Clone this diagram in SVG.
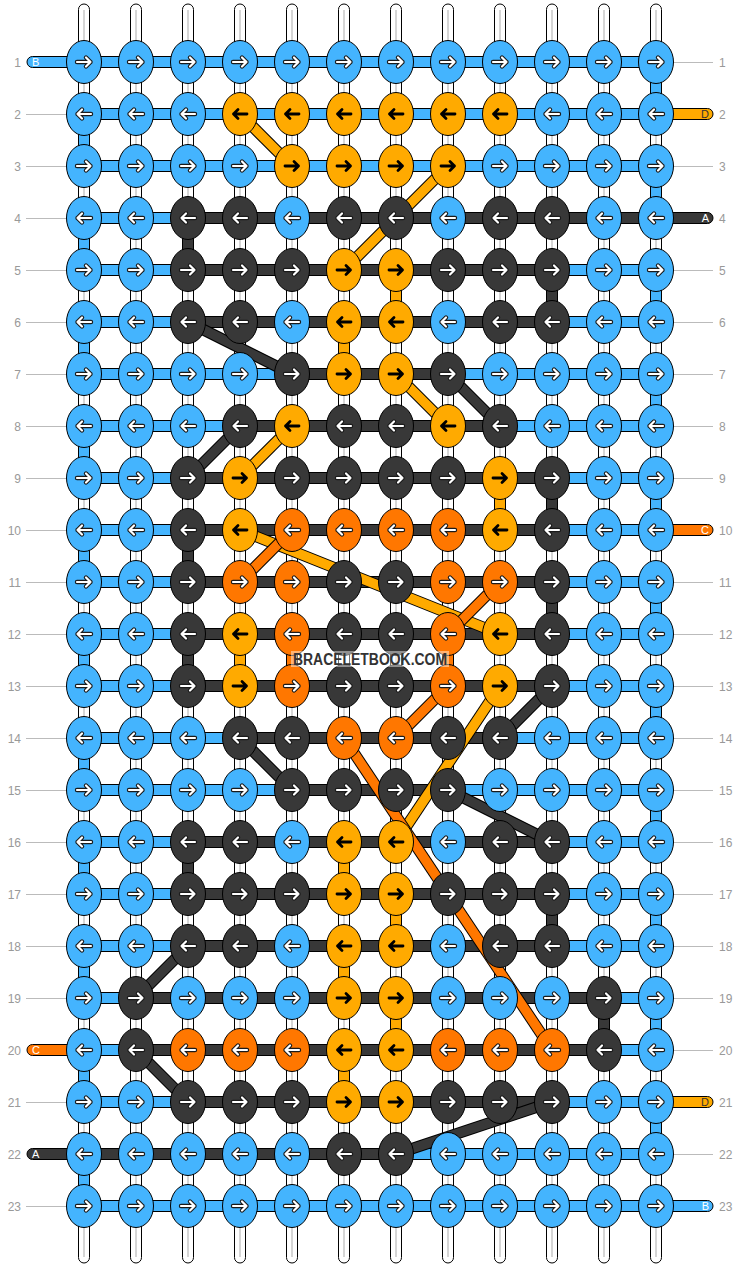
<svg xmlns="http://www.w3.org/2000/svg" xmlns:xlink="http://www.w3.org/1999/xlink" width="740" height="1268" viewBox="0 0 740 1268">
<style>
.lbl{font-family:"Liberation Sans",Arial,sans-serif;font-size:12px;fill:#999}
.gl{stroke:#bbb;stroke-width:1}
.ws{fill:#fff;stroke:#000;stroke-width:1}
.wc{stroke:#c8c8c8;stroke-width:1.5}
.cb{fill:#44B4FE;stroke:#000;stroke-width:1}
.cd{fill:#383838;stroke:#000;stroke-width:1}
.co{fill:#FFAA00;stroke:#000;stroke-width:1}
.cr{fill:#FF7700;stroke:#000;stroke-width:1}
.dl{fill:none;stroke:#000;stroke-width:11.5}
.dd{fill:none;stroke:#383838;stroke-width:9.5}
.do{fill:none;stroke:#FFAA00;stroke-width:9.5}
.dr{fill:none;stroke:#FF7700;stroke-width:9.5}
.ao{stroke:#1a1a1a;stroke-width:4.4}
.aw{stroke:#fff;stroke-width:2.2}
.ak{stroke:#000;stroke-width:2.8}
.tl{font-family:"Liberation Sans",Arial,sans-serif;font-size:11px}
</style>
<defs>
<path id="pR" d="M-7,0H6.5M2,-4.5L6.5,0L2,4.5" fill="none" stroke-linecap="round" stroke-linejoin="round"/>
<path id="pL" d="M7,0H-6.5M-2,-4.5L-6.5,0L-2,4.5" fill="none" stroke-linecap="round" stroke-linejoin="round"/>
<g id="bR"><ellipse rx="17.5" ry="21.5" class="cb"/><use href="#pR" class="ao"/><use href="#pR" class="aw"/></g>
<g id="bL"><ellipse rx="17.5" ry="21.5" class="cb"/><use href="#pL" class="ao"/><use href="#pL" class="aw"/></g>
<g id="dR"><ellipse rx="17.5" ry="21.5" class="cd"/><use href="#pR" class="ao"/><use href="#pR" class="aw"/></g>
<g id="dL"><ellipse rx="17.5" ry="21.5" class="cd"/><use href="#pL" class="ao"/><use href="#pL" class="aw"/></g>
<g id="rR"><ellipse rx="17.5" ry="21.5" class="cr"/><use href="#pR" class="ao"/><use href="#pR" class="aw"/></g>
<g id="rL"><ellipse rx="17.5" ry="21.5" class="cr"/><use href="#pL" class="ao"/><use href="#pL" class="aw"/></g>
<g id="oR"><ellipse rx="17.5" ry="21.5" class="co"/><use href="#pR" class="ak"/></g>
<g id="oL"><ellipse rx="17.5" ry="21.5" class="co"/><use href="#pL" class="ak"/></g>
</defs>
<rect width="740" height="1268" fill="#fff"/>
<g id="labels">
<path class="gl" d="M26,114.5H67M26,166.5H67M26,218.5H67M26,270.5H67M26,322.5H67M26,374.5H67M26,426.5H67M26,478.5H67M26,530.5H67M26,582.5H67M26,634.5H67M26,686.5H67M26,738.5H67M26,790.5H67M26,842.5H67M26,894.5H67M26,946.5H67M26,998.5H67M26,1102.5H67M26,1206.5H67"/>
<path class="gl" d="M673,62.5H713M673,166.5H713M673,270.5H713M673,322.5H713M673,374.5H713M673,426.5H713M673,478.5H713M673,582.5H713M673,634.5H713M673,686.5H713M673,738.5H713M673,790.5H713M673,842.5H713M673,894.5H713M673,946.5H713M673,998.5H713M673,1050.5H713M673,1154.5H713"/>
<g class="lbl" text-anchor="end">
<text x="21" y="66.5">1</text><text x="21" y="118.5">2</text><text x="21" y="170.5">3</text><text x="21" y="222.5">4</text><text x="21" y="274.5">5</text><text x="21" y="326.5">6</text><text x="21" y="378.5">7</text><text x="21" y="430.5">8</text><text x="21" y="482.5">9</text><text x="21" y="534.5">10</text><text x="21" y="586.5">11</text><text x="21" y="638.5">12</text><text x="21" y="690.5">13</text><text x="21" y="742.5">14</text><text x="21" y="794.5">15</text><text x="21" y="846.5">16</text><text x="21" y="898.5">17</text><text x="21" y="950.5">18</text><text x="21" y="1002.5">19</text><text x="21" y="1054.5">20</text><text x="21" y="1106.5">21</text><text x="21" y="1158.5">22</text><text x="21" y="1210.5">23</text>
</g>
<g class="lbl">
<text x="719" y="66.5">1</text><text x="719" y="118.5">2</text><text x="719" y="170.5">3</text><text x="719" y="222.5">4</text><text x="719" y="274.5">5</text><text x="719" y="326.5">6</text><text x="719" y="378.5">7</text><text x="719" y="430.5">8</text><text x="719" y="482.5">9</text><text x="719" y="534.5">10</text><text x="719" y="586.5">11</text><text x="719" y="638.5">12</text><text x="719" y="690.5">13</text><text x="719" y="742.5">14</text><text x="719" y="794.5">15</text><text x="719" y="846.5">16</text><text x="719" y="898.5">17</text><text x="719" y="950.5">18</text><text x="719" y="1002.5">19</text><text x="719" y="1054.5">20</text><text x="719" y="1106.5">21</text><text x="719" y="1158.5">22</text><text x="719" y="1210.5">23</text>
</g>
</g>
<g id="strings">
<rect class="ws" x="78.5" y="4" width="11" height="1259" rx="5.5"/>
<rect class="ws" x="130.5" y="4" width="11" height="1259" rx="5.5"/>
<rect class="ws" x="182.5" y="4" width="11" height="1259" rx="5.5"/>
<rect class="ws" x="234.5" y="4" width="11" height="1259" rx="5.5"/>
<rect class="ws" x="286.5" y="4" width="11" height="1259" rx="5.5"/>
<rect class="ws" x="338.5" y="4" width="11" height="1259" rx="5.5"/>
<rect class="ws" x="390.5" y="4" width="11" height="1259" rx="5.5"/>
<rect class="ws" x="442.5" y="4" width="11" height="1259" rx="5.5"/>
<rect class="ws" x="494.5" y="4" width="11" height="1259" rx="5.5"/>
<rect class="ws" x="546.5" y="4" width="11" height="1259" rx="5.5"/>
<rect class="ws" x="598.5" y="4" width="11" height="1259" rx="5.5"/>
<rect class="ws" x="650.5" y="4" width="11" height="1259" rx="5.5"/>
<path class="wc" d="M84,10V1257M136,10V1257M188,10V1257M240,10V1257M292,10V1257M344,10V1257M396,10V1257M448,10V1257M500,10V1257M552,10V1257M604,10V1257M656,10V1257"/>
</g>
<g id="connectors">
<g id="vertical">
<rect class="cb" x="650.5" y="76" width="11" height="24"/>
<rect class="cb" x="78.5" y="128" width="11" height="24"/>
<rect class="cb" x="650.5" y="180" width="11" height="24"/>
<rect class="cb" x="78.5" y="232" width="11" height="24"/>
<rect class="cd" x="182.5" y="232" width="11" height="24"/>
<rect class="cb" x="650.5" y="284" width="11" height="24"/>
<rect class="cd" x="546.5" y="284" width="11" height="24"/>
<rect class="co" x="390.5" y="284" width="11" height="24"/>
<rect class="cb" x="78.5" y="336" width="11" height="24"/>
<rect class="co" x="338.5" y="336" width="11" height="24"/>
<rect class="cb" x="650.5" y="388" width="11" height="24"/>
<rect class="cb" x="78.5" y="440" width="11" height="24"/>
<rect class="cb" x="650.5" y="492" width="11" height="24"/>
<rect class="co" x="494.5" y="492" width="11" height="24"/>
<rect class="cd" x="546.5" y="492" width="11" height="24"/>
<rect class="cb" x="78.5" y="544" width="11" height="24"/>
<rect class="cd" x="182.5" y="544" width="11" height="24"/>
<rect class="cb" x="650.5" y="596" width="11" height="24"/>
<rect class="cd" x="546.5" y="596" width="11" height="24"/>
<rect class="cb" x="78.5" y="648" width="11" height="24"/>
<rect class="cd" x="182.5" y="648" width="11" height="24"/>
<rect class="co" x="234.5" y="648" width="11" height="24"/>
<rect class="cr" x="286.5" y="648" width="11" height="24"/>
<rect class="cr" x="442.5" y="648" width="11" height="24"/>
<rect class="cb" x="650.5" y="700" width="11" height="24"/>
<rect class="cb" x="78.5" y="752" width="11" height="24"/>
<rect class="cb" x="650.5" y="804" width="11" height="24"/>
<rect class="cb" x="78.5" y="856" width="11" height="24"/>
<rect class="cd" x="182.5" y="856" width="11" height="24"/>
<rect class="co" x="338.5" y="856" width="11" height="24"/>
<rect class="cb" x="650.5" y="908" width="11" height="24"/>
<rect class="co" x="390.5" y="908" width="11" height="24"/>
<rect class="cd" x="546.5" y="908" width="11" height="24"/>
<rect class="cb" x="78.5" y="960" width="11" height="24"/>
<rect class="co" x="338.5" y="960" width="11" height="24"/>
<rect class="cb" x="650.5" y="1012" width="11" height="24"/>
<rect class="co" x="390.5" y="1012" width="11" height="24"/>
<rect class="cd" x="598.5" y="1012" width="11" height="24"/>
<rect class="cb" x="78.5" y="1064" width="11" height="24"/>
<rect class="co" x="338.5" y="1064" width="11" height="24"/>
<rect class="cb" x="650.5" y="1116" width="11" height="24"/>
<rect class="cb" x="78.5" y="1168" width="11" height="24"/>
</g>
<g id="rows">
<rect class="cb" x="27" y="56.5" width="629" height="11" rx="5.5"/>
<rect class="cb" x="84" y="108.5" width="572" height="11"/>
<rect class="co" x="650" y="108.5" width="63" height="11" rx="5.5"/>
<rect class="cb" x="84" y="160.5" width="572" height="11"/>
<rect class="cb" x="84" y="212.5" width="104" height="11"/>
<rect class="cd" x="188" y="212.5" width="525" height="11" rx="5.5"/>
<rect class="cb" x="84" y="264.5" width="572" height="11"/>
<rect class="cd" x="188" y="264.5" width="364" height="11"/>
<rect class="cb" x="84" y="316.5" width="572" height="11"/>
<rect class="cd" x="188" y="316.5" width="364" height="11"/>
<rect class="cb" x="84" y="368.5" width="572" height="11"/>
<rect class="cd" x="292" y="368.5" width="156" height="11"/>
<rect class="cb" x="84" y="420.5" width="572" height="11"/>
<rect class="cd" x="240" y="420.5" width="260" height="11"/>
<rect class="cb" x="84" y="472.5" width="572" height="11"/>
<rect class="cd" x="188" y="472.5" width="364" height="11"/>
<rect class="cb" x="84" y="524.5" width="572" height="11"/>
<rect class="cd" x="188" y="524.5" width="364" height="11"/>
<rect class="cr" x="650" y="524.5" width="63" height="11" rx="5.5"/>
<rect class="cb" x="84" y="576.5" width="572" height="11"/>
<rect class="cd" x="188" y="576.5" width="364" height="11"/>
<rect class="cb" x="84" y="628.5" width="572" height="11"/>
<rect class="cd" x="188" y="628.5" width="364" height="11"/>
<rect class="cb" x="84" y="680.5" width="572" height="11"/>
<rect class="cd" x="188" y="680.5" width="364" height="11"/>
<rect class="cb" x="84" y="732.5" width="572" height="11"/>
<rect class="cd" x="240" y="732.5" width="260" height="11"/>
<rect class="cb" x="84" y="784.5" width="572" height="11"/>
<rect class="cd" x="292" y="784.5" width="156" height="11"/>
<rect class="cb" x="84" y="836.5" width="572" height="11"/>
<rect class="cd" x="188" y="836.5" width="364" height="11"/>
<rect class="cb" x="84" y="888.5" width="572" height="11"/>
<rect class="cd" x="188" y="888.5" width="364" height="11"/>
<rect class="cb" x="84" y="940.5" width="572" height="11"/>
<rect class="cd" x="188" y="940.5" width="364" height="11"/>
<rect class="cb" x="84" y="992.5" width="572" height="11"/>
<rect class="cd" x="136" y="992.5" width="468" height="11"/>
<rect class="cb" x="84" y="1044.5" width="572" height="11"/>
<rect class="cd" x="136" y="1044.5" width="468" height="11"/>
<rect class="cr" x="27" y="1044.5" width="63" height="11" rx="5.5"/>
<rect class="cb" x="84" y="1096.5" width="572" height="11"/>
<rect class="cd" x="188" y="1096.5" width="364" height="11"/>
<rect class="co" x="650" y="1096.5" width="63" height="11" rx="5.5"/>
<rect class="cb" x="390" y="1148.5" width="266" height="11"/>
<rect class="cd" x="27" y="1148.5" width="369" height="11" rx="5.5"/>
<rect class="cb" x="84" y="1200.5" width="629" height="11" rx="5.5"/>
</g>
<g id="tails" class="tl">
<text x="32" y="66" fill="#fff">B</text>
<text x="709" y="118" fill="#333" text-anchor="end">D</text>
<text x="709" y="222" fill="#fff" text-anchor="end">A</text>
<text x="709" y="534" fill="#fff" text-anchor="end">C</text>
<text x="32" y="1054" fill="#fff">C</text>
<text x="709" y="1106" fill="#333" text-anchor="end">D</text>
<text x="32" y="1158" fill="#fff">A</text>
<text x="709" y="1210" fill="#fff" text-anchor="end">B</text>
</g>
<g id="diagonals">
<path class="dl" d="M188,322L292,374"/><path class="dd" d="M188,322L292,374"/>
<path class="dl" d="M448,374L500,426"/><path class="dd" d="M448,374L500,426"/>
<path class="dl" d="M240,426L188,478"/><path class="dd" d="M240,426L188,478"/>
<path class="dl" d="M552,686L500,738"/><path class="dd" d="M552,686L500,738"/>
<path class="dl" d="M240,738L292,790"/><path class="dd" d="M240,738L292,790"/>
<path class="dl" d="M448,790L552,842"/><path class="dd" d="M448,790L552,842"/>
<path class="dl" d="M188,946L136,998"/><path class="dd" d="M188,946L136,998"/>
<path class="dl" d="M136,1050L188,1102"/><path class="dd" d="M136,1050L188,1102"/>
<path class="dl" d="M552,1102L396,1154"/><path class="dd" d="M552,1102L396,1154"/>
<path class="dl" d="M240,114L292,166"/><path class="do" d="M240,114L292,166"/>
<path class="dl" d="M448,166L344,270"/><path class="do" d="M448,166L344,270"/>
<path class="dl" d="M396,374L448,426"/><path class="do" d="M396,374L448,426"/>
<path class="dl" d="M292,426L240,478"/><path class="do" d="M292,426L240,478"/>
<path class="dl" d="M240,530L500,634"/><path class="do" d="M240,530L500,634"/>
<path class="dl" d="M500,686L396,842"/><path class="do" d="M500,686L396,842"/>
<path class="dl" d="M292,530L240,582"/><path class="dr" d="M292,530L240,582"/>
<path class="dl" d="M500,582L448,634"/><path class="dr" d="M500,582L448,634"/>
<path class="dl" d="M448,686L396,738"/><path class="dr" d="M448,686L396,738"/>
<path class="dl" d="M344,738L552,1050"/><path class="dr" d="M344,738L552,1050"/>
</g>
</g>
<g id="nodes">
<g id="n1-1"><use href="#bR" x="84" y="62"/></g><g id="n1-2"><use href="#bR" x="136" y="62"/></g><g id="n1-3"><use href="#bR" x="188" y="62"/></g><g id="n1-4"><use href="#bR" x="240" y="62"/></g><g id="n1-5"><use href="#bR" x="292" y="62"/></g><g id="n1-6"><use href="#bR" x="344" y="62"/></g><g id="n1-7"><use href="#bR" x="396" y="62"/></g><g id="n1-8"><use href="#bR" x="448" y="62"/></g><g id="n1-9"><use href="#bR" x="500" y="62"/></g><g id="n1-10"><use href="#bR" x="552" y="62"/></g><g id="n1-11"><use href="#bR" x="604" y="62"/></g><g id="n1-12"><use href="#bR" x="656" y="62"/></g>
<g id="n2-1"><use href="#bL" x="84" y="114"/></g><g id="n2-2"><use href="#bL" x="136" y="114"/></g><g id="n2-3"><use href="#bL" x="188" y="114"/></g><g id="n2-4"><use href="#oL" x="240" y="114"/></g><g id="n2-5"><use href="#oL" x="292" y="114"/></g><g id="n2-6"><use href="#oL" x="344" y="114"/></g><g id="n2-7"><use href="#oL" x="396" y="114"/></g><g id="n2-8"><use href="#oL" x="448" y="114"/></g><g id="n2-9"><use href="#oL" x="500" y="114"/></g><g id="n2-10"><use href="#bL" x="552" y="114"/></g><g id="n2-11"><use href="#bL" x="604" y="114"/></g><g id="n2-12"><use href="#bL" x="656" y="114"/></g>
<g id="n3-1"><use href="#bR" x="84" y="166"/></g><g id="n3-2"><use href="#bR" x="136" y="166"/></g><g id="n3-3"><use href="#bR" x="188" y="166"/></g><g id="n3-4"><use href="#bR" x="240" y="166"/></g><g id="n3-5"><use href="#oR" x="292" y="166"/></g><g id="n3-6"><use href="#oR" x="344" y="166"/></g><g id="n3-7"><use href="#oR" x="396" y="166"/></g><g id="n3-8"><use href="#oR" x="448" y="166"/></g><g id="n3-9"><use href="#bR" x="500" y="166"/></g><g id="n3-10"><use href="#bR" x="552" y="166"/></g><g id="n3-11"><use href="#bR" x="604" y="166"/></g><g id="n3-12"><use href="#bR" x="656" y="166"/></g>
<g id="n4-1"><use href="#bL" x="84" y="218"/></g><g id="n4-2"><use href="#bL" x="136" y="218"/></g><g id="n4-3"><use href="#dL" x="188" y="218"/></g><g id="n4-4"><use href="#dL" x="240" y="218"/></g><g id="n4-5"><use href="#bL" x="292" y="218"/></g><g id="n4-6"><use href="#dL" x="344" y="218"/></g><g id="n4-7"><use href="#dL" x="396" y="218"/></g><g id="n4-8"><use href="#bL" x="448" y="218"/></g><g id="n4-9"><use href="#dL" x="500" y="218"/></g><g id="n4-10"><use href="#dL" x="552" y="218"/></g><g id="n4-11"><use href="#bL" x="604" y="218"/></g><g id="n4-12"><use href="#bL" x="656" y="218"/></g>
<g id="n5-1"><use href="#bR" x="84" y="270"/></g><g id="n5-2"><use href="#bR" x="136" y="270"/></g><g id="n5-3"><use href="#dR" x="188" y="270"/></g><g id="n5-4"><use href="#dR" x="240" y="270"/></g><g id="n5-5"><use href="#dR" x="292" y="270"/></g><g id="n5-6"><use href="#oR" x="344" y="270"/></g><g id="n5-7"><use href="#oR" x="396" y="270"/></g><g id="n5-8"><use href="#dR" x="448" y="270"/></g><g id="n5-9"><use href="#dR" x="500" y="270"/></g><g id="n5-10"><use href="#dR" x="552" y="270"/></g><g id="n5-11"><use href="#bR" x="604" y="270"/></g><g id="n5-12"><use href="#bR" x="656" y="270"/></g>
<g id="n6-1"><use href="#bL" x="84" y="322"/></g><g id="n6-2"><use href="#bL" x="136" y="322"/></g><g id="n6-3"><use href="#dL" x="188" y="322"/></g><g id="n6-4"><use href="#dL" x="240" y="322"/></g><g id="n6-5"><use href="#bL" x="292" y="322"/></g><g id="n6-6"><use href="#oL" x="344" y="322"/></g><g id="n6-7"><use href="#oL" x="396" y="322"/></g><g id="n6-8"><use href="#bL" x="448" y="322"/></g><g id="n6-9"><use href="#dL" x="500" y="322"/></g><g id="n6-10"><use href="#dL" x="552" y="322"/></g><g id="n6-11"><use href="#bL" x="604" y="322"/></g><g id="n6-12"><use href="#bL" x="656" y="322"/></g>
<g id="n7-1"><use href="#bR" x="84" y="374"/></g><g id="n7-2"><use href="#bR" x="136" y="374"/></g><g id="n7-3"><use href="#bR" x="188" y="374"/></g><g id="n7-4"><use href="#bR" x="240" y="374"/></g><g id="n7-5"><use href="#dR" x="292" y="374"/></g><g id="n7-6"><use href="#oR" x="344" y="374"/></g><g id="n7-7"><use href="#oR" x="396" y="374"/></g><g id="n7-8"><use href="#dR" x="448" y="374"/></g><g id="n7-9"><use href="#bR" x="500" y="374"/></g><g id="n7-10"><use href="#bR" x="552" y="374"/></g><g id="n7-11"><use href="#bR" x="604" y="374"/></g><g id="n7-12"><use href="#bR" x="656" y="374"/></g>
<g id="n8-1"><use href="#bL" x="84" y="426"/></g><g id="n8-2"><use href="#bL" x="136" y="426"/></g><g id="n8-3"><use href="#bL" x="188" y="426"/></g><g id="n8-4"><use href="#dL" x="240" y="426"/></g><g id="n8-5"><use href="#oL" x="292" y="426"/></g><g id="n8-6"><use href="#dL" x="344" y="426"/></g><g id="n8-7"><use href="#dL" x="396" y="426"/></g><g id="n8-8"><use href="#oL" x="448" y="426"/></g><g id="n8-9"><use href="#dL" x="500" y="426"/></g><g id="n8-10"><use href="#bL" x="552" y="426"/></g><g id="n8-11"><use href="#bL" x="604" y="426"/></g><g id="n8-12"><use href="#bL" x="656" y="426"/></g>
<g id="n9-1"><use href="#bR" x="84" y="478"/></g><g id="n9-2"><use href="#bR" x="136" y="478"/></g><g id="n9-3"><use href="#dR" x="188" y="478"/></g><g id="n9-4"><use href="#oR" x="240" y="478"/></g><g id="n9-5"><use href="#dR" x="292" y="478"/></g><g id="n9-6"><use href="#dR" x="344" y="478"/></g><g id="n9-7"><use href="#dR" x="396" y="478"/></g><g id="n9-8"><use href="#dR" x="448" y="478"/></g><g id="n9-9"><use href="#oR" x="500" y="478"/></g><g id="n9-10"><use href="#dR" x="552" y="478"/></g><g id="n9-11"><use href="#bR" x="604" y="478"/></g><g id="n9-12"><use href="#bR" x="656" y="478"/></g>
<g id="n10-1"><use href="#bL" x="84" y="530"/></g><g id="n10-2"><use href="#bL" x="136" y="530"/></g><g id="n10-3"><use href="#dL" x="188" y="530"/></g><g id="n10-4"><use href="#oL" x="240" y="530"/></g><g id="n10-5"><use href="#rL" x="292" y="530"/></g><g id="n10-6"><use href="#rL" x="344" y="530"/></g><g id="n10-7"><use href="#rL" x="396" y="530"/></g><g id="n10-8"><use href="#rL" x="448" y="530"/></g><g id="n10-9"><use href="#oL" x="500" y="530"/></g><g id="n10-10"><use href="#dL" x="552" y="530"/></g><g id="n10-11"><use href="#bL" x="604" y="530"/></g><g id="n10-12"><use href="#bL" x="656" y="530"/></g>
<g id="n11-1"><use href="#bR" x="84" y="582"/></g><g id="n11-2"><use href="#bR" x="136" y="582"/></g><g id="n11-3"><use href="#dR" x="188" y="582"/></g><g id="n11-4"><use href="#rR" x="240" y="582"/></g><g id="n11-5"><use href="#rR" x="292" y="582"/></g><g id="n11-6"><use href="#dR" x="344" y="582"/></g><g id="n11-7"><use href="#dR" x="396" y="582"/></g><g id="n11-8"><use href="#rR" x="448" y="582"/></g><g id="n11-9"><use href="#rR" x="500" y="582"/></g><g id="n11-10"><use href="#dR" x="552" y="582"/></g><g id="n11-11"><use href="#bR" x="604" y="582"/></g><g id="n11-12"><use href="#bR" x="656" y="582"/></g>
<g id="n12-1"><use href="#bL" x="84" y="634"/></g><g id="n12-2"><use href="#bL" x="136" y="634"/></g><g id="n12-3"><use href="#dL" x="188" y="634"/></g><g id="n12-4"><use href="#oL" x="240" y="634"/></g><g id="n12-5"><use href="#rL" x="292" y="634"/></g><g id="n12-6"><use href="#dL" x="344" y="634"/></g><g id="n12-7"><use href="#dL" x="396" y="634"/></g><g id="n12-8"><use href="#rL" x="448" y="634"/></g><g id="n12-9"><use href="#oL" x="500" y="634"/></g><g id="n12-10"><use href="#dL" x="552" y="634"/></g><g id="n12-11"><use href="#bL" x="604" y="634"/></g><g id="n12-12"><use href="#bL" x="656" y="634"/></g>
<g id="n13-1"><use href="#bR" x="84" y="686"/></g><g id="n13-2"><use href="#bR" x="136" y="686"/></g><g id="n13-3"><use href="#dR" x="188" y="686"/></g><g id="n13-4"><use href="#oR" x="240" y="686"/></g><g id="n13-5"><use href="#rR" x="292" y="686"/></g><g id="n13-6"><use href="#dR" x="344" y="686"/></g><g id="n13-7"><use href="#dR" x="396" y="686"/></g><g id="n13-8"><use href="#rR" x="448" y="686"/></g><g id="n13-9"><use href="#oR" x="500" y="686"/></g><g id="n13-10"><use href="#dR" x="552" y="686"/></g><g id="n13-11"><use href="#bR" x="604" y="686"/></g><g id="n13-12"><use href="#bR" x="656" y="686"/></g>
<g id="n14-1"><use href="#bL" x="84" y="738"/></g><g id="n14-2"><use href="#bL" x="136" y="738"/></g><g id="n14-3"><use href="#bL" x="188" y="738"/></g><g id="n14-4"><use href="#dL" x="240" y="738"/></g><g id="n14-5"><use href="#dL" x="292" y="738"/></g><g id="n14-6"><use href="#rL" x="344" y="738"/></g><g id="n14-7"><use href="#rL" x="396" y="738"/></g><g id="n14-8"><use href="#dL" x="448" y="738"/></g><g id="n14-9"><use href="#dL" x="500" y="738"/></g><g id="n14-10"><use href="#bL" x="552" y="738"/></g><g id="n14-11"><use href="#bL" x="604" y="738"/></g><g id="n14-12"><use href="#bL" x="656" y="738"/></g>
<g id="n15-1"><use href="#bR" x="84" y="790"/></g><g id="n15-2"><use href="#bR" x="136" y="790"/></g><g id="n15-3"><use href="#bR" x="188" y="790"/></g><g id="n15-4"><use href="#bR" x="240" y="790"/></g><g id="n15-5"><use href="#dR" x="292" y="790"/></g><g id="n15-6"><use href="#dR" x="344" y="790"/></g><g id="n15-7"><use href="#dR" x="396" y="790"/></g><g id="n15-8"><use href="#dR" x="448" y="790"/></g><g id="n15-9"><use href="#bR" x="500" y="790"/></g><g id="n15-10"><use href="#bR" x="552" y="790"/></g><g id="n15-11"><use href="#bR" x="604" y="790"/></g><g id="n15-12"><use href="#bR" x="656" y="790"/></g>
<g id="n16-1"><use href="#bL" x="84" y="842"/></g><g id="n16-2"><use href="#bL" x="136" y="842"/></g><g id="n16-3"><use href="#dL" x="188" y="842"/></g><g id="n16-4"><use href="#dL" x="240" y="842"/></g><g id="n16-5"><use href="#bL" x="292" y="842"/></g><g id="n16-6"><use href="#oL" x="344" y="842"/></g><g id="n16-7"><use href="#oL" x="396" y="842"/></g><g id="n16-8"><use href="#bL" x="448" y="842"/></g><g id="n16-9"><use href="#dL" x="500" y="842"/></g><g id="n16-10"><use href="#dL" x="552" y="842"/></g><g id="n16-11"><use href="#bL" x="604" y="842"/></g><g id="n16-12"><use href="#bL" x="656" y="842"/></g>
<g id="n17-1"><use href="#bR" x="84" y="894"/></g><g id="n17-2"><use href="#bR" x="136" y="894"/></g><g id="n17-3"><use href="#dR" x="188" y="894"/></g><g id="n17-4"><use href="#dR" x="240" y="894"/></g><g id="n17-5"><use href="#dR" x="292" y="894"/></g><g id="n17-6"><use href="#oR" x="344" y="894"/></g><g id="n17-7"><use href="#oR" x="396" y="894"/></g><g id="n17-8"><use href="#dR" x="448" y="894"/></g><g id="n17-9"><use href="#dR" x="500" y="894"/></g><g id="n17-10"><use href="#dR" x="552" y="894"/></g><g id="n17-11"><use href="#bR" x="604" y="894"/></g><g id="n17-12"><use href="#bR" x="656" y="894"/></g>
<g id="n18-1"><use href="#bL" x="84" y="946"/></g><g id="n18-2"><use href="#bL" x="136" y="946"/></g><g id="n18-3"><use href="#dL" x="188" y="946"/></g><g id="n18-4"><use href="#dL" x="240" y="946"/></g><g id="n18-5"><use href="#bL" x="292" y="946"/></g><g id="n18-6"><use href="#oL" x="344" y="946"/></g><g id="n18-7"><use href="#oL" x="396" y="946"/></g><g id="n18-8"><use href="#bL" x="448" y="946"/></g><g id="n18-9"><use href="#dL" x="500" y="946"/></g><g id="n18-10"><use href="#dL" x="552" y="946"/></g><g id="n18-11"><use href="#bL" x="604" y="946"/></g><g id="n18-12"><use href="#bL" x="656" y="946"/></g>
<g id="n19-1"><use href="#bR" x="84" y="998"/></g><g id="n19-2"><use href="#dR" x="136" y="998"/></g><g id="n19-3"><use href="#bR" x="188" y="998"/></g><g id="n19-4"><use href="#bR" x="240" y="998"/></g><g id="n19-5"><use href="#bR" x="292" y="998"/></g><g id="n19-6"><use href="#oR" x="344" y="998"/></g><g id="n19-7"><use href="#oR" x="396" y="998"/></g><g id="n19-8"><use href="#bR" x="448" y="998"/></g><g id="n19-9"><use href="#bR" x="500" y="998"/></g><g id="n19-10"><use href="#bR" x="552" y="998"/></g><g id="n19-11"><use href="#dR" x="604" y="998"/></g><g id="n19-12"><use href="#bR" x="656" y="998"/></g>
<g id="n20-1"><use href="#bL" x="84" y="1050"/></g><g id="n20-2"><use href="#dL" x="136" y="1050"/></g><g id="n20-3"><use href="#rL" x="188" y="1050"/></g><g id="n20-4"><use href="#rL" x="240" y="1050"/></g><g id="n20-5"><use href="#rL" x="292" y="1050"/></g><g id="n20-6"><use href="#oL" x="344" y="1050"/></g><g id="n20-7"><use href="#oL" x="396" y="1050"/></g><g id="n20-8"><use href="#rL" x="448" y="1050"/></g><g id="n20-9"><use href="#rL" x="500" y="1050"/></g><g id="n20-10"><use href="#rL" x="552" y="1050"/></g><g id="n20-11"><use href="#dL" x="604" y="1050"/></g><g id="n20-12"><use href="#bL" x="656" y="1050"/></g>
<g id="n21-1"><use href="#bR" x="84" y="1102"/></g><g id="n21-2"><use href="#bR" x="136" y="1102"/></g><g id="n21-3"><use href="#dR" x="188" y="1102"/></g><g id="n21-4"><use href="#dR" x="240" y="1102"/></g><g id="n21-5"><use href="#dR" x="292" y="1102"/></g><g id="n21-6"><use href="#oR" x="344" y="1102"/></g><g id="n21-7"><use href="#oR" x="396" y="1102"/></g><g id="n21-8"><use href="#dR" x="448" y="1102"/></g><g id="n21-9"><use href="#dR" x="500" y="1102"/></g><g id="n21-10"><use href="#dR" x="552" y="1102"/></g><g id="n21-11"><use href="#bR" x="604" y="1102"/></g><g id="n21-12"><use href="#bR" x="656" y="1102"/></g>
<g id="n22-1"><use href="#bL" x="84" y="1154"/></g><g id="n22-2"><use href="#bL" x="136" y="1154"/></g><g id="n22-3"><use href="#bL" x="188" y="1154"/></g><g id="n22-4"><use href="#bL" x="240" y="1154"/></g><g id="n22-5"><use href="#bL" x="292" y="1154"/></g><g id="n22-6"><use href="#dL" x="344" y="1154"/></g><g id="n22-7"><use href="#dL" x="396" y="1154"/></g><g id="n22-8"><use href="#bL" x="448" y="1154"/></g><g id="n22-9"><use href="#bL" x="500" y="1154"/></g><g id="n22-10"><use href="#bL" x="552" y="1154"/></g><g id="n22-11"><use href="#bL" x="604" y="1154"/></g><g id="n22-12"><use href="#bL" x="656" y="1154"/></g>
<g id="n23-1"><use href="#bR" x="84" y="1206"/></g><g id="n23-2"><use href="#bR" x="136" y="1206"/></g><g id="n23-3"><use href="#bR" x="188" y="1206"/></g><g id="n23-4"><use href="#bR" x="240" y="1206"/></g><g id="n23-5"><use href="#bR" x="292" y="1206"/></g><g id="n23-6"><use href="#bR" x="344" y="1206"/></g><g id="n23-7"><use href="#bR" x="396" y="1206"/></g><g id="n23-8"><use href="#bR" x="448" y="1206"/></g><g id="n23-9"><use href="#bR" x="500" y="1206"/></g><g id="n23-10"><use href="#bR" x="552" y="1206"/></g><g id="n23-11"><use href="#bR" x="604" y="1206"/></g><g id="n23-12"><use href="#bR" x="656" y="1206"/></g>
</g>
<g id="watermark">
<rect x="291" y="651" width="158" height="16" fill="#fff" fill-opacity="0.45"/>
<text x="370" y="665" text-anchor="middle" font-family="'Liberation Sans',Arial,sans-serif" font-weight="bold" font-size="16" fill="#333" textLength="154" lengthAdjust="spacingAndGlyphs">BRACELETBOOK.COM</text>
</g>
</svg>
